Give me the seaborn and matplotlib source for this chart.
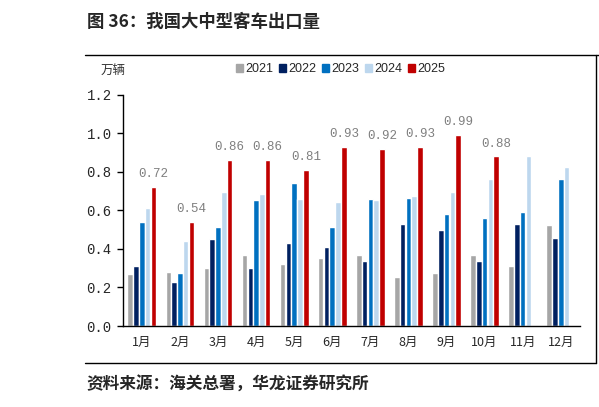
import numpy as np
import pandas as pd
import seaborn as sns
import matplotlib.pyplot as plt
from matplotlib.lines import Line2D

MONTHS = ['1月', '2月', '3月', '4月', '5月', '6月', '7月', '8月', '9月', '10月', '11月', '12月']
YEARS = ['2021', '2022', '2023', '2024', '2025']
V2021 = [0.27, 0.28, 0.30, 0.37, 0.32, 0.355, 0.37, 0.255, 0.275, 0.37, 0.31, 0.525]
V2022 = [0.31, 0.23, 0.45, 0.30, 0.43, 0.41, 0.34, 0.53, 0.50, 0.335, 0.53, 0.455]
V2023 = [0.54, 0.275, 0.515, 0.655, 0.74, 0.515, 0.66, 0.665, 0.58, 0.56, 0.59, 0.765]
V2024 = [0.61, 0.44, 0.695, 0.685, 0.66, 0.645, 0.655, 0.675, 0.695, 0.765, 0.88, 0.825]
V2025 = [0.72, 0.54, 0.86, 0.86, 0.81, 0.93, 0.92, 0.93, 0.99, 0.88, np.nan, np.nan]
CLRS = ['#A6A6A6', '#002060', '#0070C0', '#BDD7EE', '#C00000']

CJK = ['Noto Sans CJK SC', 'DejaVu Sans']
MONO = 'Liberation Mono'
###############################################################################
# Data
###############################################################################
rows = []
for (yr, vals) in zip(YEARS, (V2021, V2022, V2023, V2024, V2025)):
    for (m, v) in zip(MONTHS, vals):
        rows.append({'month': m, 'year': yr, 'value': v})
df = pd.DataFrame(rows)
###############################################################################
# Plot
###############################################################################
sns.set_style('white')
plt.rcParams['font.family'] = CJK
fig = plt.figure(figsize=(5.99, 4.07), dpi=100)
ax = fig.add_axes([0.205, 0.199, 0.763, 0.568])
sns.barplot(
    data=df, x='month', y='value', hue='year', order=MONTHS, hue_order=YEARS,
    palette=CLRS, width=0.76, gap=0.04, ax=ax, legend=False, saturation=1
)
# value labels on 2025 bars
for p in ax.containers[-1]:
    h = p.get_height()
    if np.isnan(h):
        continue
    ax.annotate(
        '{:.2f}'.format(h), (p.get_x() + p.get_width() / 2, h),
        xytext=(0, 5), textcoords='offset points', ha='center', va='bottom',
        fontsize=9, color='#7F7F7F', family=MONO
    )
ax.set_ylim(0, 1.2)
ax.set_xlim(-0.5, len(MONTHS) - 0.5)
ax.set_yticks(np.arange(0, 1.21, 0.2))
ax.set_yticklabels(['{:.1f}'.format(t) for t in np.arange(0, 1.21, 0.2)], family=MONO, fontsize=10)
ax.set_xticks(range(len(MONTHS)))
ax.set_xticklabels(MONTHS, fontsize=9)
ax.set_xticks(np.arange(-0.5, len(MONTHS)), minor=True)
ax.tick_params(axis='x', which='major', length=0, pad=7)
ax.tick_params(axis='x', which='minor', length=4, width=1, direction='out', color='black')
ax.tick_params(axis='y', length=4, width=1, direction='out', color='black', left=True, pad=4)
ax.set(xlabel=None, ylabel=None)
for s in ('top', 'right'):
    ax.spines[s].set_visible(False)
for s in ('left', 'bottom'):
    ax.spines[s].set_color('black')
    ax.spines[s].set_linewidth(1)
# legend
handles = [plt.Rectangle((0, 0), 1, 1, color=c) for c in CLRS]
fig.legend(
    handles, YEARS, loc='center', bbox_to_anchor=(0.568, 0.83), ncol=5,
    frameon=False, handlelength=0.6, handleheight=0.6, handletextpad=0.15,
    columnspacing=0.45, prop={'family': 'Liberation Sans', 'size': 9}
)
fig.text(0.168, 0.828, '万辆', fontsize=9, va='center', color='#333333')
# title, source and frame
fig.text(0.145, 0.945, '图 36：我国大中型客车出口量', fontsize=12.5, weight='bold', va='center')
fig.text(0.145, 0.055, '资料来源：海关总署，华龙证券研究所', fontsize=12, weight='bold', va='center')
fig.add_artist(Line2D([0.142, 1.0], [0.865, 0.865], color='black', lw=1))
fig.add_artist(Line2D([0.142, 0.995], [0.108, 0.108], color='black', lw=1))
fig.add_artist(Line2D([0.995, 0.995], [0.108, 0.865], color='black', lw=1))
fig.savefig('out.png', dpi=100)
